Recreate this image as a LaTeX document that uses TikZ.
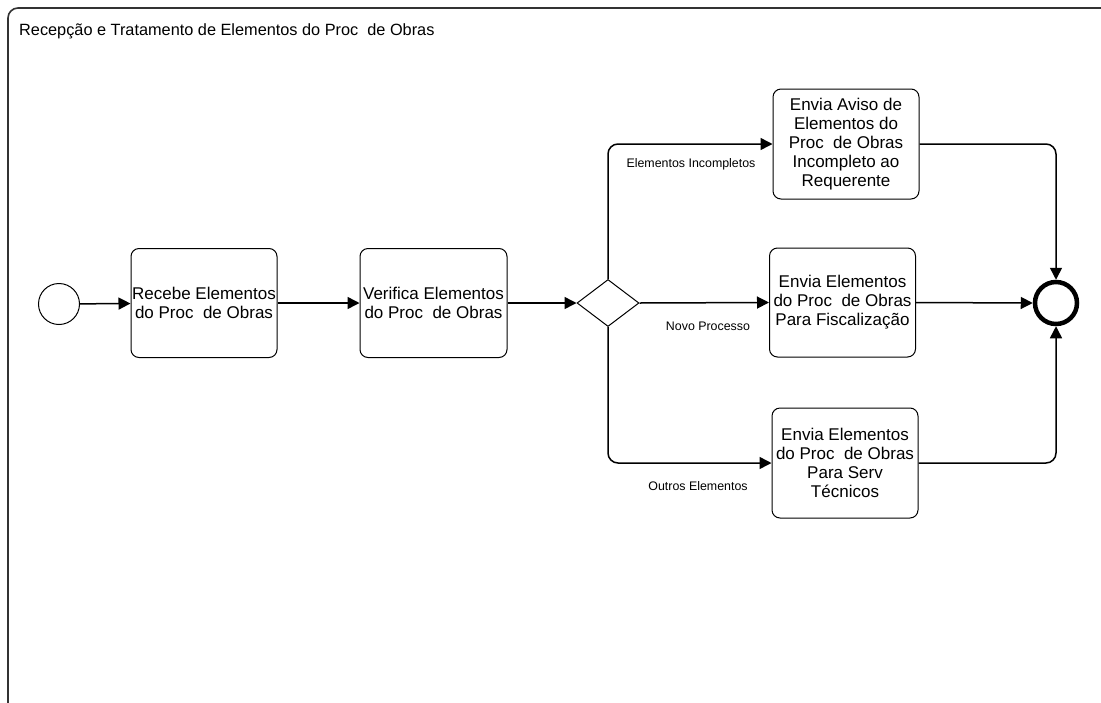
\documentclass[tikz,border=0pt]{standalone}
\usepackage{fontspec}
\setmainfont{Liberation Sans}
\usetikzlibrary{arrows.meta,shapes.geometric}

\tikzset{
  taskbox/.style={draw=black, line width=1pt, rounded corners=8pt, fill=white,
    minimum width=146pt, minimum height=109pt, inner sep=0pt, align=center,
    font=\fontsize{17}{19}\selectfont},
  flow/.style={draw=black, line width=1.5pt, rounded corners=10pt,
    -{Triangle[length=12pt,width=12pt]}},
  flowlabel/.style={font=\fontsize{12.4}{14}\selectfont, inner sep=0pt},
  gateway/.style={draw=black, line width=1pt, diamond, shape aspect=1.32,
    minimum width=62pt, minimum height=47pt, inner sep=0pt},
}

\begin{document}
\begin{tikzpicture}[x=1pt, y=-1pt]
  \useasboundingbox (0,0) rectangle (1101,702);
  \clip (0,0) rectangle (1101,702);
  \fill[white] (0,0) rectangle (1101,702);

  % pool frame, running off the page to the right and bottom
  \draw[line width=1.6pt, draw=black!80, rounded corners=10pt]
    (8,720) -- (8,8) -- (1120,8);
  \node[anchor=base west, inner sep=0pt, font=\fontsize{16.3}{18}\selectfont]
    (title) at (19,35) {Recepção e Tratamento de Elementos do Proc\ \ de Obras};

  % events
  \node[circle, draw=black, line width=1pt, minimum size=41pt, inner sep=0pt]
    (start) at (59,304) {};
  \node[circle, draw=black, line width=4.5pt, minimum size=42pt, inner sep=0pt]
    (end) at (1056,303) {};

  % tasks
  \node[taskbox] (recebe) at (204,303) {Recebe Elementos\\do Proc\ \ de Obras};
  \node[taskbox, minimum width=147pt] (verifica) at (433.5,303) {Verifica Elementos\\do Proc\ \ de Obras};
  \node[gateway] (gw) at (608,303) {};
  \node[taskbox, minimum height=110pt] (aviso) at (846,144)
    {Envia Aviso de\\Elementos do\\Proc\ \ de Obras\\Incompleto ao\\Requerente};
  \node[taskbox] (fisc) at (842.5,302.5)
    {Envia Elementos\\do Proc\ \ de Obras\\Para Fiscalização};
  \node[taskbox, minimum height=110pt] (serv) at (845,463)
    {Envia Elementos\\do Proc\ \ de Obras\\Para Serv\\Técnicos};

  % sequence flows
  \draw[flow] (start) -- (recebe);
  \draw[flow] (recebe) -- (verifica);
  \draw[flow] (verifica) -- (gw);
  \draw[flow] (gw.north) |- (aviso.west);
  \draw[flow] (gw.east) -- (fisc.west);
  \draw[flow] (gw.south) |- (serv.west);
  \draw[flow] (aviso.east) -| (end.north);
  \draw[flow] (fisc.east) -- (end.west);
  \draw[flow] (serv.east) -| (end.south);

  % condition labels
  \node[flowlabel] (lbl-inc) at (691,164) {Elementos Incompletos};
  \node[flowlabel] (lbl-novo) at (708,326) {Novo Processo};
  \node[flowlabel] (lbl-out) at (698,486) {Outros Elementos};
\end{tikzpicture}
\end{document}
